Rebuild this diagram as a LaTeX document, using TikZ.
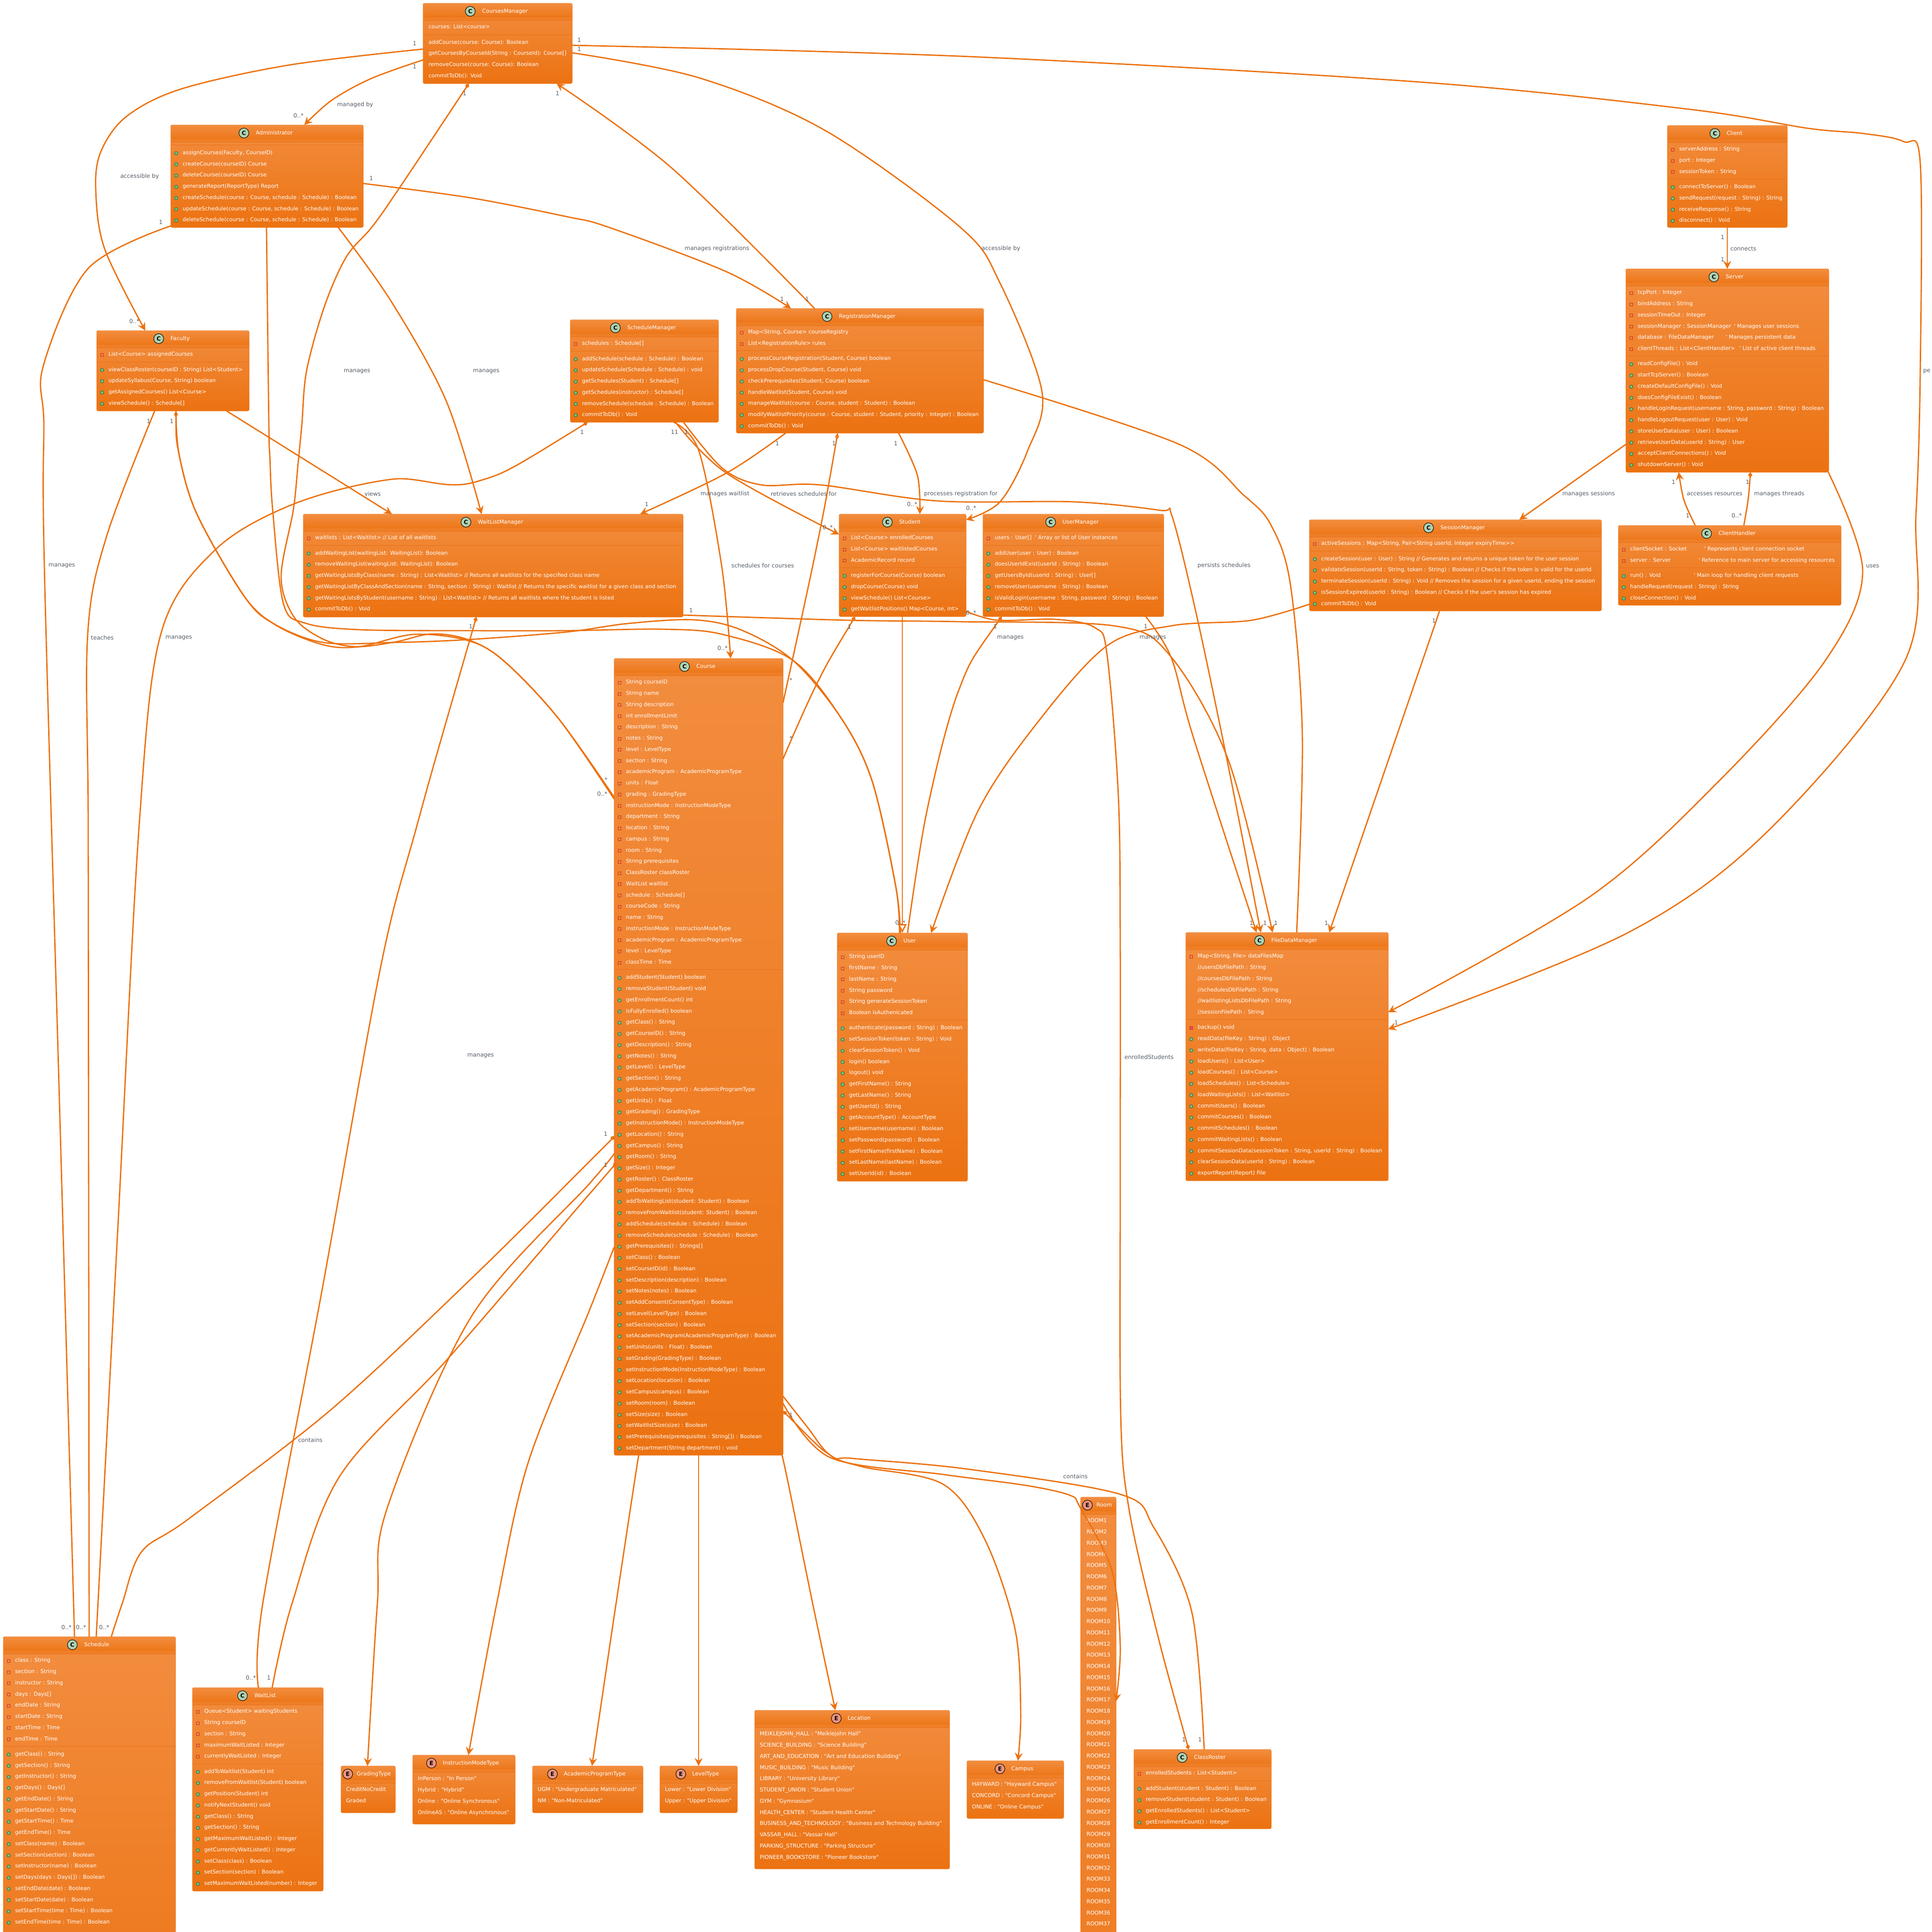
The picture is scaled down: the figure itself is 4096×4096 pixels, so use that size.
\documentclass[tikz,border=0pt]{standalone}
\usepackage{fontspec}
\usetikzlibrary{arrows.meta}
\newfontfamily\umlfont{DejaVu Sans}
\newfontfamily\umlbold{DejaVu Sans Bold}
\definecolor{boxtop}{HTML}{F28D3F}
\definecolor{boxbot}{HTML}{EC7211}
\definecolor{stripcol}{HTML}{EF7F26}
\definecolor{edgecol}{HTML}{EC7211}
\definecolor{sepcol}{HTML}{E9701A}
\definecolor{lblcol}{HTML}{545B64}
\definecolor{iconC}{HTML}{ADD1B2}
\definecolor{iconE}{HTML}{EB937F}
\definecolor{privcol}{HTML}{C82930}
\definecolor{privfill}{HTML}{F24D5C}
\definecolor{pubcol}{HTML}{038048}
\definecolor{pubfill}{HTML}{84BE84}
\tikzset{
  classbox/.style={draw=edgecol,line width=1pt,rounded corners=3pt,top color=boxtop,bottom color=boxbot,anchor=north west,inner sep=0pt,outer sep=0pt},
  sepline/.style={draw=sepcol,line width=1pt},
  titletxt/.style={text=white,inner sep=0pt,font=\umlfont\fontsize{11.5}{13}\selectfont,text height=9pt,text depth=2.5pt},
  iconnode/.style={circle,draw=black,line width=1pt,minimum size=21pt,inner sep=0pt,font=\umlbold\fontsize{12}{13}\selectfont,text=black},
  itemtxt/.style={text=white,anchor=west,inner sep=0pt,font=\umlfont\fontsize{11.4}{13}\selectfont,text height=9pt,text depth=2.5pt},
  lbltxt/.style={text=lblcol,inner sep=0pt,font=\umlfont\fontsize{12.2}{14}\selectfont},
  privshape/.style={rectangle,draw=privcol,line width=1pt,minimum size=6pt,inner sep=0pt},
  pubshape/.style={circle,draw=pubcol,fill=pubfill,line width=1pt,minimum size=7pt,inner sep=0pt},
  conn/.style={draw=edgecol,line width=2.8pt,line join=round},
  arr/.style={-{Stealth[length=17pt,width=17pt,inset=6pt]}},
  comp/.style={{Diamond[length=12pt,width=9pt]}-},
  agg/.style={{Diamond[open,length=15pt,width=8pt,fill=white]}-},
  tri/.style={-{Triangle[open,length=19pt,width=18pt,fill=white]}},
}
\newcounter{itm}
\def\ushift{15.5}\def\ugap{25}\def\ulit{10.7}
\newcommand{\umlclass}[7]{%
  \pgfmathsetmacro\uw{#5-#3}\pgfmathsetmacro\uh{#6-#4}%
  \node[classbox,minimum width=\uw pt,minimum height=\uh pt] (#1) at (#3,#4) {};%
  \pgfmathsetmacro\uhb{#4+36}\pgfmathsetmacro\uhs{#4+30}%
  \shade[top color=boxtop,bottom color=boxbot] (#3,\uhb) [rounded corners=3pt] -- (#3,#4) -- (#5,#4) [sharp corners] -- (#5,\uhb) -- cycle;%
  \fill[stripcol] (#3,\uhs) rectangle (#5,\uhb);%
  \draw[sepline] (#3,\uhb) -- (#5,\uhb);%
  \pgfmathsetmacro\ucx{(#3+#5)/2+\ushift}\pgfmathsetmacro\ucy{#4+17}%
  \node[titletxt] (#1-title) at (\ucx,\ucy) {#7};%
  \node[iconnode,fill=icon#2] (#1-icon) at ([xshift=-\ugap pt]#1-title.west) {#2};%
  \xdef\ux{#3}\xdef\uxr{#5}\pgfmathsetmacro\utmp{#4+50.6}\xdef\uy{\utmp}%
}
\newcommand{\advy}{\pgfmathsetmacro\utmp{\uy+23.75}\xdef\uy{\utmp}}
\newcommand{\txtat}[2]{\stepcounter{itm}\pgfmathsetmacro\utx{\ux+#1}\node[itemtxt] (t\theitm) at (\utx,\uy) {#2};}
\newcommand{\fld}[1]{\pgfmathsetmacro\uix{\ux+11.5}\pgfmathsetmacro\uiy{\uy+.8}\stepcounter{itm}\node[privshape] (i\theitm) at (\uix,\uiy) {};\txtat{25}{#1}\advy}
\newcommand{\mth}[1]{\pgfmathsetmacro\uix{\ux+11.5}\pgfmathsetmacro\uiy{\uy+.8}\stepcounter{itm}\node[pubshape] (i\theitm) at (\uix,\uiy) {};\txtat{25}{#1}\advy}
\newcommand{\pmth}[1]{\pgfmathsetmacro\uix{\ux+11.5}\pgfmathsetmacro\uiy{\uy+.8}\stepcounter{itm}\node[privshape,fill=privfill] (i\theitm) at (\uix,\uiy) {};\txtat{25}{#1}\advy}
\newcommand{\lit}[1]{\txtat{\ulit}{#1}\advy}
\newcommand{\umlsep}{\pgfmathsetmacro\utmp{\uy-8.25}\draw[sepline] (\ux,\utmp) -- (\uxr,\utmp);\pgfmathsetmacro\utmp{\uy+8.45}\xdef\uy{\utmp}}
\newcommand{\lab}[3]{\stepcounter{itm}\node[lbltxt] (l\theitm) at (#1,#2) {#3};}
\newcommand{\conn}[2][]{\draw[conn,#1] plot[smooth,tension=.55] coordinates {#2};}
\begin{document}
\begin{tikzpicture}[x=1pt,y=-1pt]
\path[use as bounding box,clip] (0,0) rectangle (4096,4096);

\umlclass{cm}{C}{897}{7}{1213}{177}{CoursesManager}
\def\ulit{11.5}\lit{courses: List<course>}\umlsep\lit{addCourse(course: Course): Boolean}\lit{getCoursesByCourseId(String : CourseId): Course[]}\lit{removeCourse(course: Course): Boolean}\lit{commitToDb(): Void}\def\ulit{10.7}

\umlclass{admin}{C}{362}{265}{770}{482}{Administrator}
\umlsep
\mth{assignCourses(Faculty, CourseID)}\mth{createCourse(courseID) Course}\mth{deleteCourse(courseID) Course}\mth{generateReport(ReportType) Report}\mth{createSchedule(course : Course, schedule : Schedule) : Boolean}\mth{updateSchedule(course : Course, schedule : Schedule) : Boolean}\mth{deleteSchedule(course : Course, schedule : Schedule) : Boolean}

\umlclass{faculty}{C}{205}{701}{528}{871}{Faculty}
\fld{List<Course> assignedCourses}\umlsep
\mth{viewClassRoster(courseID : String) List<Student>}\mth{updateSyllabus(Course, String) boolean}\mth{getAssignedCourses() List<Course>}\mth{viewSchedule() : Schedule[]}

\umlclass{schedm}{C}{1209}{678}{1523}{895}{ScheduleManager}
\fld{schedules : Schedule[]}\umlsep
\mth{addSchedule(schedule : Schedule) : Boolean}\mth{updateSchedule(Schedule : Schedule) : void}\mth{getSchedules(Student) : Schedule[]}\mth{getSchedules(instructor) : Schedule[]}\mth{removeSchedule(schedule : Schedule) : Boolean}\mth{commitToDb() : Void}

\umlclass{rm}{C}{1561}{654}{2085}{918}{RegistrationManager}
\fld{Map<String, Course> courseRegistry}\fld{List<RegistrationRule> rules}\umlsep
\mth{processCourseRegistration(Student, Course) boolean}\mth{processDropCourse(Student, Course) void}\mth{checkPrerequisites(Student, Course) boolean}\mth{handleWaitlist(Student, Course) void}\mth{manageWaitlist(course : Course, student : Student) : Boolean}\mth{modifyWaitlistPriority(course : Course, student : Student, priority : Integer) : Boolean}\mth{commitToDb() : Void}

\umlclass{student}{C}{1779}{1090}{2048}{1307}{Student}
\fld{List<Course> enrolledCourses}\fld{List<Course> waitlistedCourses}\fld{AcademicRecord record}\umlsep
\mth{registerForCourse(Course) boolean}\mth{dropCourse(Course) void}\mth{viewSchedule() List<Course>}\mth{getWaitlistPositions() Map<Course, int>}

\umlclass{um}{C}{2084}{1090}{2467}{1307}{UserManager}
\fld{users : User[]\hspace{7pt}' Array or list of User instances}\umlsep
\mth{addUser(user : User) : Boolean}\mth{doesUserIdExist(userId : String) : Boolean}\mth{getUsersById(userId : String) : User[]}\mth{removeUser(username : String) : Boolean}\mth{isValidLogin(username : String, password : String) : Boolean}\mth{commitToDb() : Void}

\umlclass{wlm}{C}{643}{1090}{1448}{1308}{WaitListManager}
\fld{waitlists : List<Waitlist> // List of all waitlists}\umlsep
\mth{addWaitingList(waitingList: WaitingList): Boolean}\mth{removeWaitingList(waitingList: WaitingList): Boolean}\mth{getWaitingListsByClass(name : String) : List<Waitlist> // Returns all waitlists for the specified class name}\mth{getWaitingListByClassAndSection(name : String, section : String) : Waitlist // Returns the specific waitlist for a given class and section}\mth{getWaitingListsByStudent(username : String) : List<Waitlist> // Returns all waitlists where the student is listed}\mth{commitToDb() : Void}

\umlclass{client}{C}{3535}{266}{3789}{482}{Client}
\fld{serverAddress : String}\fld{port : Integer}\fld{sessionToken : String}\umlsep
\mth{connectToServer() : Boolean}\mth{sendRequest(request : String) : String}\mth{receiveResponse() : String}\mth{disconnect() : Void}

\umlclass{server}{C}{3447}{570}{3877}{1001}{Server}
\fld{tcpPort : Integer}\fld{bindAddress : String}\fld{sessionTimeOut : Integer}\fld{sessionManager : SessionManager\hspace{6pt}' Manages user sessions}\fld{database : FileDataManager\hspace{25pt}' Manages persistent data}\fld{clientThreads : List<ClientHandler>\hspace{9pt}' List of active client threads}\umlsep
\mth{readConfigFile() : Void}\mth{startTcpServer() : Boolean}\mth{createDefaultConfigFile() : Void}\mth{doesConfigFileExist() : Boolean}\mth{handleLoginRequest(username : String, password : String) : Boolean}\mth{handleLogoutRequest(user : User) : Void}\mth{storeUserData(user : User) : Boolean}\mth{retrieveUserData(userId : String) : User}\mth{acceptClientConnections() : Void}\mth{shutdownServer() : Void}

\umlclass{sessm}{C}{2776}{1102}{3395}{1295}{SessionManager}
\fld{activeSessions : Map<String, Pair<String userId, Integer expiryTime>>}\umlsep
\mth{createSession(user : User) : String // Generates and returns a unique token for the user session}\mth{validateSession(userId : String, token : String) : Boolean // Checks if the token is valid for the userId}\mth{terminateSession(userId : String) : Void // Removes the session for a given userId, ending the session}\mth{isSessionExpired(userId : String) : Boolean // Checks if the user's session has expired}\mth{commitToDb() : Void}

\umlclass{ch}{C}{3431}{1114}{3903}{1283}{ClientHandler}
\fld{clientSocket : Socket\hspace{37pt}' Represents client connection socket}\fld{server : Server\hspace{59pt}' Reference to main server for accessing resources}\umlsep
\mth{run() : Void\hspace{70pt}' Main loop for handling client requests}\mth{handleRequest(request : String) : String}\mth{closeConnection() : Void}

\umlclass{course}{C}{1302}{1396}{1660}{3085}{Course}
\fld{String courseID}\fld{String name}\fld{String description}\fld{int enrollmentLimit}\fld{description : String}\fld{notes : String}\fld{level : LevelType}\fld{section : String}\fld{academicProgram : AcademicProgramType}\fld{units : Float}\fld{grading : GradingType}\fld{instructionMode : InstructionModeType}\fld{department : String}\fld{location : String}\fld{campus : String}\fld{room : String}\fld{String prerequisites}\fld{ClassRoster classRoster}\fld{WaitList waitlist}\fld{schedule : Schedule[]}\fld{courseCode : String}\fld{name : String}\fld{instructionMode : InstructionModeType}\fld{academicProgram : AcademicProgramType}\fld{level : LevelType}\fld{classTime : Time}\umlsep
\mth{addStudent(Student) boolean}\mth{removeStudent(Student) void}\mth{getEnrollmentCount() int}\mth{isFullyEnrolled() boolean}\mth{getClass() : String}\mth{getCourseID() : String}\mth{getDescription() : String}\mth{getNotes() : String}\mth{getLevel() : LevelType}\mth{getSection() : String}\mth{getAcademicProgram() : AcademicProgramType}\mth{getUnits() : Float}\mth{getGrading() : GradingType}\mth{getInstructionMode() : InstructionModeType}\mth{getLocation() : String}\mth{getCampus() : String}\mth{getRoom() : String}\mth{getSize() : Integer}\mth{getRoster() : ClassRoster}\mth{getDepartment() : String}\mth{addToWaitingList(student: Student) : Boolean}\mth{removeFromWaitlist(student: Student) : Boolean}\mth{addSchedule(schedule : Schedule) : Boolean}\mth{removeSchedule(schedule : Schedule) : Boolean}\mth{getPrerequisites() : Strings[]}\mth{setClass() : Boolean}\mth{setCourseID(id) : Boolean}\mth{setDescription(description) : Boolean}\mth{setNotes(notes) : Boolean}\mth{setAddConsent(ConsentType) : Boolean}\mth{setLevel(LevelType) : Boolean}\mth{setSection(section) : Boolean}\mth{setAcademicProgram(AcademicProgramType) : Boolean}\mth{setUnits(units : Float) : Boolean}\mth{setGrading(GradingType) : Boolean}\mth{setInstructionMode(InstructionModeType) : Boolean}\mth{setLocation(location) : Boolean}\mth{setCampus(campus) : Boolean}\mth{setRoom(room) : Boolean}\mth{setSize(size) : Boolean}\mth{setWaitlistSize(size) : Boolean}\mth{setPrerequisites(prerequisites : String[]) : Boolean}\mth{setDepartment(String department) : void}

\umlclass{user}{C}{1775}{1978}{2051}{2504}{User}
\fld{String userID}\fld{firstName : String}\fld{lastName : String}\fld{String password}\fld{String generateSessionToken}\fld{Boolean isAuthenicated}\umlsep
\mth{authenticate(password : String) : Boolean}\mth{setSessionToken(token : String) : Void}\mth{clearSessionToken() : Void}\mth{login() boolean}\mth{logout() void}\mth{getFirstName() : String}\mth{getLastName() : String}\mth{getUserId() : String}\mth{getAccountType() : AccountType}\mth{setUsername(username) : Boolean}\mth{setPassword(password) : Boolean}\mth{setFirstName(firstName) : Boolean}\mth{setLastName(lastName) : Boolean}\mth{setUserId(id) : Boolean}

\umlclass{fdm}{C}{2514}{1977}{2943}{2503}{FileDataManager}
\fld{Map<String, File> dataFilesMap}\def\ulit{25}\lit{//usersDbFilePath : String}\lit{//coursesDbFilePath : String}\lit{//schedulesDbFilePath : String}\lit{//waitlistingListsDbFilePath : String}\lit{//sessionFilePath : String}\def\ulit{10.7}\umlsep
\pmth{backup() void}\mth{readData(fileKey : String) : Object}\mth{writeData(fileKey : String, data : Object) : Boolean}\mth{loadUsers() : List<User>}\mth{loadCourses() : List<Course>}\mth{loadSchedules() : List<Schedule>}\mth{loadWaitingLists() : List<Waitlist>}\mth{commitUsers() : Boolean}\mth{commitCourses() : Boolean}\mth{commitSchedules() : Boolean}\mth{commitWaitingLists() : Boolean}\mth{commitSessionData(sessionToken : String, userId : String) : Boolean}\mth{clearSessionData(userId : String) : Boolean}\mth{exportReport(Report) File}

\umlclass{schedule}{C}{7}{3470}{372}{4420}{Schedule}
\fld{class : String}\fld{section : String}\fld{instructor : String}\fld{days : Days[]}\fld{endDate : String}\fld{startDate : String}\fld{startTime : Time}\fld{endTime : Time}\umlsep
\mth{getClass() : String}\mth{getSection() : String}\mth{getInstructor() : String}\mth{getDays() : Days[]}\mth{getEndDate() : String}\mth{getStartDate() : String}\mth{getStartTime() : Time}\mth{getEndTime() : Time}\mth{setClass(name) : Boolean}\mth{setSection(section) : Boolean}\mth{setInstructor(name) : Boolean}\mth{setDays(days : Days[]) : Boolean}\mth{setEndDate(date) : Boolean}\mth{setStartDate(date) : Boolean}\mth{setStartTime(time : Time) : Boolean}\mth{setEndTime(time : Time) : Boolean}

\umlclass{waitlist}{C}{408}{3578}{685}{4009}{WaitList}
\fld{Queue<Student> waitingStudents}\fld{String courseID}\fld{section : String}\fld{maximumWaitListed : Integer}\fld{currentlyWaitListed : Integer}\umlsep
\mth{addToWaitlist(Student) int}\mth{removeFromWaitlist(Student) boolean}\mth{getPosition(Student) int}\mth{notifyNextStudent() void}\mth{getClass() : String}\mth{getSection() : String}\mth{getMaximumWaitListed() : Integer}\mth{getCurrentlyWaitListed() : Integer}\mth{setClass(class) : Boolean}\mth{setSection(section) : Boolean}\mth{setMaximumWaitListed(number) : Integer}

\def\ushift{12}\def\ugap{19}
\umlclass{grading}{E}{723}{3744}{838}{3843}{GradingType}
\lit{CreditNoCredit}\lit{Graded}
\def\ushift{15}\def\ugap{24}
\umlclass{instr}{E}{875}{3721}{1092}{3867}{InstructionModeType}
\lit{InPerson : "In Person"}\lit{Hybrid : "Hybrid"}\lit{Online : "Online Synchronous"}\lit{OnlineAS : "Online Asynchronous"}
\umlclass{acad}{E}{1129}{3744}{1363}{3843}{AcademicProgramType}
\lit{UGM : "Undergraduate Matriculated"}\lit{NM : "Non-Matriculated"}
\umlclass{level}{E}{1399}{3744}{1563}{3843}{LevelType}
\lit{Lower : "Lower Division"}\lit{Upper : "Upper Division"}
\umlclass{location}{E}{1600}{3626}{2013}{3962}{Location}
\lit{MEIKLEJOHN\_HALL : "Meiklejohn Hall"}\lit{SCIENCE\_BUILDING : "Science Building"}\lit{ART\_AND\_EDUCATION : "Art and Education Building"}\lit{MUSIC\_BUILDING : "Music Building"}\lit{LIBRARY : "University Library"}\lit{STUDENT\_UNION : "Student Union"}\lit{GYM : "Gymnasium"}\lit{HEALTH\_CENTER : "Student Health Center"}\lit{BUSINESS\_AND\_TECHNOLOGY : "Business and Technology Building"}\lit{VASSAR\_HALL : "Vassar Hall"}\lit{PARKING\_STRUCTURE : "Parking Structure"}\lit{PIONEER\_BOOKSTORE : "Pioneer Bookstore"}
\umlclass{campus}{E}{2050}{3733}{2255}{3855}{Campus}
\lit{HAYWARD : "Hayward Campus"}\lit{CONCORD : "Concord Campus"}\lit{ONLINE : "Online Campus"}
\def\ushift{12.5}\def\ugap{19}\def\ulit{12.5}
\umlclass{room}{E}{2291}{3174}{2366}{4800}{Room}
\foreach \rn in {1,...,37}{\lit{ROOM\rn}}
\def\ushift{15.5}\def\ugap{25}\def\ulit{10.7}
\umlclass{roster}{C}{2404}{3709}{2695}{3877}{ClassRoster}
\fld{enrolledStudents : List<Student>}\umlsep
\mth{addStudent(student : Student) : Boolean}\mth{removeStudent(student : Student) : Boolean}\mth{getEnrolledStudents() : List<Student>}\mth{getEnrollmentCount() : Integer}

% connectors
\conn[arr]{(cm.west |- 0,104) (612,138) (383,189) (268,247) (214,321) (203,402) (222,528) (faculty.north -| 308,0)}
\conn[arr]{(cm.west |- 0,127) (788,166) (704,212) (admin.north -| 645,0)}
\conn[comp]{(cm.south -| 994,0) (841,407) (788,482) (734,545) (688,649) (650,786) (640,900) (632,982) (622,1080) (596,1223) (624,1309) (685,1355) (754,1371) (838,1361) (915,1344) (992,1356) (1068,1401) (1183,1522) (course.west |- 0,1694)}
\conn[agg]{(faculty.south -| 373,0) (380,965) (418,1091) (517,1263) (586,1326) (685,1367) (762,1371) (877,1345) (992,1358) (1068,1401) (1183,1522) (course.west |- 0,1690)}
\conn{(faculty.south -| 373,0) (380,965) (418,1091) (517,1263) (578,1321) (685,1362) (838,1362) (992,1356) (1200,1340) (1330,1322) (1470,1314) (1570,1335) (1681,1400) (1783,1522) (1849,1656) (1899,1879) (user.north -| 1907,0)}
\conn{(admin.south -| 565,0) (570,900) (572,965) (578,1080) (601,1280) (647,1321) (762,1335) (1000,1337) (1200,1337) (1407,1334) (1532,1345) (1681,1400) (1783,1522) (1849,1656) (1899,1879) (user.north -| 1909,0)}
\conn[arr]{(rm.north -| 1727,0) (1425,357) (cm.south -| 1180,0)}
\conn[arr]{(admin.east |- 0,389) (995,419) (1200,459) (1291,482) (1540,576) (rm.north -| 1677,0)}
\conn[arr]{(cm.east |- 0,112) (1482,165) (1750,277) (2036,482) (2120,600) (2209,830) (2178,957) (2120,1064) (student.east |- 0,1102)}
\conn[arr]{(cm.east |- 0,96) (2055,120) (3011,174) (3584,232) (3833,272) (3950,283) (4035,300) (4071,345) (4071,790) (4062,1090) (4039,1400) (3750,1760) (3450,1978) (fdm.east |- 0,2182)}
\conn[arr]{(server.south -| 3876,0) (3949,1212) (3870,1400) (3650,1650) (3372,1900) (fdm.east |- 0,2146)}
\conn[arr]{(server.west |- 0,942) (sessm.north -| 3221,0)}
\conn[arr]{(client.south -| 3662,0) (server.north -| 3662,0)}
\conn[arr]{(ch.north -| 3594,0) (3570,1060) (server.south -| 3559,0)}
\conn[comp]{(server.south -| 3711,0) (3706,1060) (ch.north -| 3697,0)}
\conn[arr]{(faculty.south -| 480,0) (wlm.north -| 831,0)}
\conn[arr]{(admin.south -| 717,0) (830,640) (946,850) (wlm.north -| 1021,0)}
\conn[arr]{(rm.south -| 1666,0) (1540,1003) (wlm.north -| 1357,0)}
\conn[arr]{(rm.south -| 1905,0) (1945,1008) (student.north -| 1950,0)}
\conn[arr]{(schedm.south -| 1432,0) (1540,1003) (student.west |- 0,1133)}
\conn[arr]{(schedm.south -| 1428,0) (1482,957) (1530,1200) (course.north -| 1549,0)}
\conn[arr]{(schedm.south -| 1449,0) (1532,993) (1614,1028) (1739,1028) (1987,1062) (2278,1064) (2460,1082) (2485,1095) (2537,1305) (2604,1624) (fdm.north -| 2673,0)}
\conn[arr]{(um.south -| 2429,0) (2483,1394) (2529,1560) (fdm.north -| 2664,0)}
\conn[arr]{(wlm.east |- 0,1304) (1800,1315) (2032,1318) (2363,1327) (2479,1388) (2604,1611) (fdm.north -| 2698,0)}
\conn{(rm.east |- 0,805) (2500,942) (2637,1050) (2695,1114) (2736,1241) (2761,1560) (fdm.north -| 2749,0)}
\conn[arr]{(sessm.south -| 3052,0) (3016,1400) (fdm.north -| 2818,0)}
\conn[arr]{(sessm.west |- 0,1281) (2653,1315) (2488,1326) (2347,1369) (2197,1535) (2073,1720) (user.north -| 1974,0)}
\conn[comp]{(um.south -| 2124,0) (2032,1465) (1965,1720) (user.north -| 1924,0)}
\conn[tri]{(student.south -| 1913,0) (user.north -| 1913,0)}
\conn[agg]{(rm.south -| 1776,0) (1731,1161) (course.east |- 0,1490)}
\conn[comp]{(student.south -| 1813,0) (1732,1449) (course.east |- 0,1609)}
\conn[comp]{(schedm.south -| 1246,0) (1007,1022) (831,1016) (624,1068) (456,1166) (341,1344) (295,1750) (250,2600) (schedule.north -| 204,0)}
\conn{(admin.west |- 0,479) (187,569) (92,775) (93,900) (94,1200) (126,2335) (schedule.north -| 158,0)}
\conn{(faculty.south -| 328,0) (226,1137) (186,1344) (187,1750) (188,2600) (schedule.north -| 189,0)}
\conn[comp]{(course.west |- 0,2408) (1250,2462) (1000,2710) (700,2990) (400,3220) (300,3290) (259,3400) (schedule.north -| 236,0)}
\conn[comp]{(course.west |- 0,2475) (1250,2531) (950,2880) (720,3130) (619,3400) (waitlist.north -| 577,0)}
\conn[arr]{(course.west |- 0,2446) (1250,2509) (1000,2790) (820,3200) (800,3400) (grading.north -| 779,0)}
\conn[arr]{(course.west |- 0,2644) (1250,2777) (1120,3100) (1053,3400) (instr.north -| 993,0)}
\conn[arr]{(course.south -| 1354,0) (1344,3149) (1306,3400) (acad.north -| 1255,0)}
\conn[arr]{(course.south -| 1481,0) (level.north -| 1481,0)}
\conn[arr]{(course.south -| 1658,0) (1672,3149) (1723,3400) (location.north -| 1771,0)}
\conn[arr]{(course.east |- 0,2960) (1712,3026) (1760,3085) (1830,3110) (2000,3147) (2089,3266) (2152,3454) (2164,3629) (campus.north -| 2158,0)}
\conn[arr]{(course.east |- 0,2975) (1760,3090) (2000,3126) (2174,3149) (2268,3170) (2290,3196) (2357,3329) (2375,3489) (room.east |- 0,3607)}
\conn[comp]{(course.east |- 0,2991) (1760,3085) (1808,3092) (2047,3114) (2375,3168) (2446,3238) (2527,3419) (roster.north -| 2553,0)}
\conn[comp]{(roster.north -| 2520,0) (2446,3433) (2393,3196) (2376,3000) (2375,2500) (2375,2000) (2371,1688) (2347,1388) (2322,1331) (2239,1313) (2115,1315) (student.east |- 0,1296)}
\conn[comp]{(wlm.south -| 1010,0) (884,1750) (807,2050) (680,2750) (557,3400) (waitlist.north -| 548,0)}

% connector labels
\lab{296}{374}{accessible by}
\lab{753}{222}{managed by}
\lab{757}{787}{manages}
\lab{1031}{787}{manages}
\lab{1520}{527}{manages registrations}
\lab{2122}{527}{accessible by}
\lab{3696}{527}{connects}
\lab{790}{1047}{views}
\lab{1537}{1047}{manages waitlist}
\lab{1704}{1047}{retrieves schedules for}
\lab{2037}{1047}{processes registration for}
\lab{1617}{1199}{schedules for courses}
\lab{2595}{1199}{persists schedules}
\lab{379}{1352}{manages}
\lab{217}{1352}{teaches}
\lab{131}{1199}{manages}
\lab{2142}{1352}{manages}
\lab{2444}{1352}{manages}
\lab{3368}{1047}{manages sessions}
\lab{3635}{1047}{accesses resources}
\lab{3772}{1047}{manages threads}
\lab{3970}{1200}{uses}
\lab{2436}{2241}{enrolledStudents}
\lab{658}{3053}{contains}
\lab{2280}{3130}{contains}
\lab{1019}{2238}{manages}
\lab{4085}{787}{pe}

% multiplicities
\lab{879}{92}{1}\lab{879}{141}{1}\lab{633}{245}{0..*}\lab{285}{681}{0..*}\lab{985}{198}{1}\lab{1182}{198}{1}\lab{1228}{85}{1}\lab{1228}{104}{1}
\lab{787}{378}{1}\lab{341}{471}{1}\lab{315}{893}{1}\lab{364}{893}{1}
\lab{1658}{634}{1}\lab{1711}{634}{1}\lab{1234}{916}{1}\lab{1430}{916}{11}\lab{1455}{916}{1}\lab{1648}{940}{1}\lab{1768}{940}{1}\lab{1899}{940}{1}
\lab{1371}{1069}{1}\lab{1934}{1069}{0..*}\lab{2059}{1077}{0..*}\lab{1755}{1118}{0..*}\lab{1532}{1374}{0..*}
\lab{1465}{1294}{1}\lab{2059}{1299}{0..*}\lab{1801}{1329}{1}\lab{2110}{1328}{1}\lab{2429}{1328}{1}\lab{998}{1328}{1}
\lab{1677}{1442}{*}\lab{1677}{1565}{*}\lab{1285}{1653}{*}\lab{1277}{1683}{0..*}
\lab{1284}{2404}{1}\lab{1284}{2470}{1}\lab{1677}{3000}{1}
\lab{1909}{1956}{0..*}\lab{2653}{1957}{1}\lab{2682}{1957}{1}\lab{2705}{1957}{1}\lab{2812}{1957}{1}\lab{2960}{2168}{1}
\lab{3040}{1316}{1}\lab{3652}{503}{1}\lab{3652}{550}{1}\lab{3548}{1022}{1}\lab{3578}{1093}{1}\lab{3705}{1022}{1}\lab{3682}{1093}{0..*}
\lab{141}{3450}{0..*}\lab{172}{3450}{0..*}\lab{221}{3450}{0..*}\lab{532}{3557}{0..*}\lab{570}{3557}{1}\lab{2510}{3688}{1}\lab{2544}{3688}{1}
\end{tikzpicture}
\end{document}
